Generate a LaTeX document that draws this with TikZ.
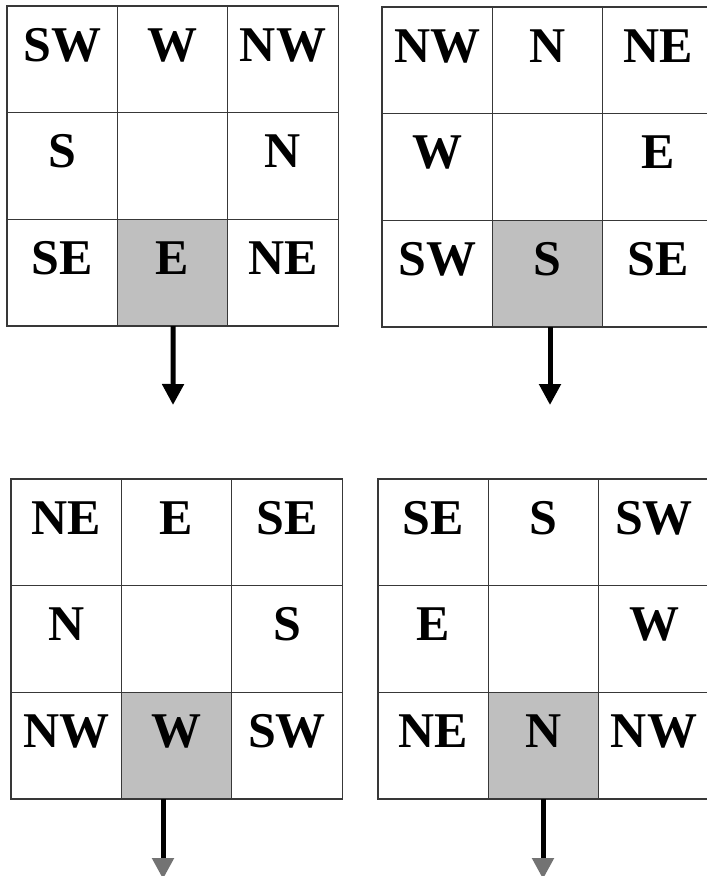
\documentclass[tikz,border=0pt]{standalone}
\usepackage{fontspec}
\setmainfont{Liberation Serif}
\usetikzlibrary{arrows.meta}
\tikzset{
  cellbox/.style={draw=black!78, line width=1.3pt, minimum width=110.4pt, minimum height=106.7pt, inner sep=0pt, outer sep=0pt},
  hit/.style={fill=black!25},
  lbl/.style={anchor=base, inner sep=0pt, font=\fontsize{50}{50}\selectfont\bfseries},
  arr/.style={line width=5pt, -{Triangle[width=21pt,length=21pt]}},
  arrfade/.style={line width=5pt, -{Triangle[width=21pt,length=21pt,color=black!55]}}
}
% name, left x, top y, label, extra style
\newcommand\mycell[5]{%
  \node[cellbox,#5] (#1) at (#2+55.2,#3+53.35) {};
  \node[lbl] (#1t) at (#2+55.2,#3+55) {#4};
}
\newcommand\myempty[3]{%
  \node[cellbox] (#1) at (#2+55.2,#3+53.35) {};
}
\begin{document}
\begin{tikzpicture}[x=1pt,y=-1pt]
\clip (0,0) rectangle (707,876);
\fill[white] (0,0) rectangle (707,876);
% grid 1
\mycell{a11}{7}{6}{SW}{}
\mycell{a12}{117.4}{6}{W}{}
\mycell{a13}{227.8}{6}{NW}{}
\mycell{a21}{7}{112.7}{S}{}
\myempty{a22}{117.4}{112.7}
\mycell{a23}{227.8}{112.7}{N}{}
\mycell{a31}{7}{219.4}{SE}{}
\mycell{a32}{117.4}{219.4}{E}{hit}
\mycell{a33}{227.8}{219.4}{NE}{}
% grid 2
\mycell{b11}{382}{7}{NW}{}
\mycell{b12}{492.4}{7}{N}{}
\mycell{b13}{602.8}{7}{NE}{}
\mycell{b21}{382}{113.7}{W}{}
\myempty{b22}{492.4}{113.7}
\mycell{b23}{602.8}{113.7}{E}{}
\mycell{b31}{382}{220.4}{SW}{}
\mycell{b32}{492.4}{220.4}{S}{hit}
\mycell{b33}{602.8}{220.4}{SE}{}
% grid 3
\mycell{c11}{11}{479}{NE}{}
\mycell{c12}{121.4}{479}{E}{}
\mycell{c13}{231.8}{479}{SE}{}
\mycell{c21}{11}{585.7}{N}{}
\myempty{c22}{121.4}{585.7}
\mycell{c23}{231.8}{585.7}{S}{}
\mycell{c31}{11}{692.4}{NW}{}
\mycell{c32}{121.4}{692.4}{W}{hit}
\mycell{c33}{231.8}{692.4}{SW}{}
% grid 4
\mycell{d11}{378}{479}{SE}{}
\mycell{d12}{488.4}{479}{S}{}
\mycell{d13}{598.8}{479}{SW}{}
\mycell{d21}{378}{585.7}{E}{}
\myempty{d22}{488.4}{585.7}
\mycell{d23}{598.8}{585.7}{W}{}
\mycell{d31}{378}{692.4}{NE}{}
\mycell{d32}{488.4}{692.4}{N}{hit}
\mycell{d33}{598.8}{692.4}{NW}{}
% arrows
\coordinate (ea) at (173,405);
\coordinate (eb) at (550,405);
\coordinate (ec) at (163,879);
\coordinate (ed) at (543,879);
\draw[arr] ([xshift=0.6pt]a32.south) -- (ea);
\draw[arr] (b32.south -| eb) -- (eb);
\draw[arrfade] (c32.south -| ec) -- (ec);
\draw[arrfade] (d32.south -| ed) -- (ed);
\end{tikzpicture}
\end{document}
